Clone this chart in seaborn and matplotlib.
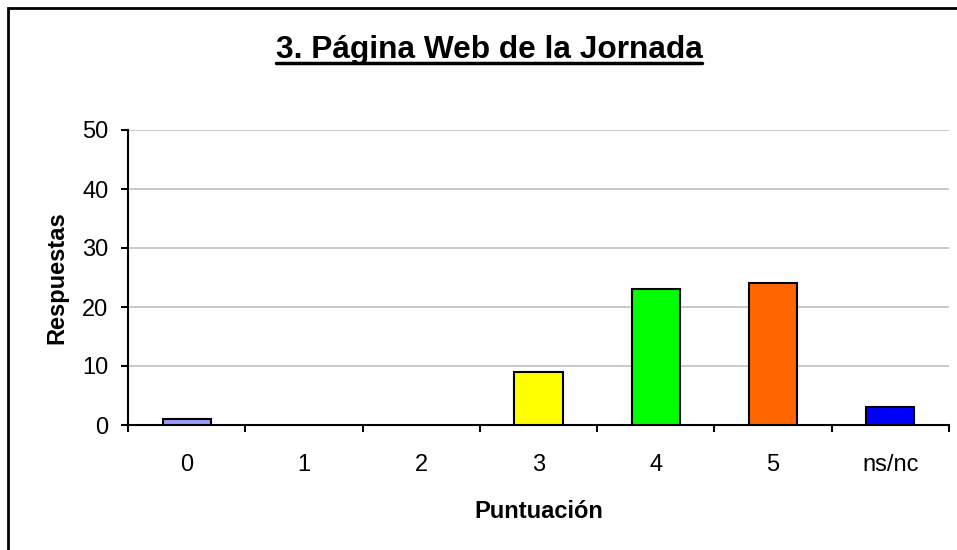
import matplotlib
matplotlib.use("Agg")
import matplotlib.pyplot as plt
import seaborn as sns
import pandas as pd
from matplotlib.patches import Rectangle
from matplotlib.lines import Line2D
from matplotlib.ticker import FixedLocator

categories = ["0", "1", "2", "3", "4", "5", "ns/nc"]
values = [1, 0, 0, 9, 23, 24, 3]
colors = ["#9999FF", "#FFFFFF", "#FFFFFF", "#FFFF00", "#00FF00", "#FF6600", "#0000FF"]
title = "3. Página Web de la Jornada"
xlabel = "Puntuación"
ylabel = "Respuestas"
yticks = [0, 10, 20, 30, 40, 50]

sns.set_theme(style="white")
plt.rcParams['font.family'] = ['Liberation Sans', 'DejaVu Sans']

df = pd.DataFrame({"cat": categories, "val": values})

W, H = 957, 550
fig = plt.figure(figsize=(W/100, H/100), dpi=100)
fig.patch.set_facecolor("white")
ax = fig.add_axes([128/W, 1-425/H, (949-128)/W, (425-130)/H])

sns.barplot(data=df, x="cat", y="val", hue="cat", palette=colors, legend=False,
            saturation=1, width=0.41, edgecolor="black", linewidth=1.5, ax=ax, zorder=3)
for p, v in zip(ax.patches, values):
    if v == 0:
        p.set_visible(False)

ax.set_xlim(-0.5, len(categories)-0.5)
ax.set_ylim(0, 50)
ax.set_yticks(yticks)
ax.yaxis.grid(True, color="#C0C0C0", linewidth=1.2, zorder=0)
ax.set_axisbelow(True)
for s in ["top", "right"]:
    ax.spines[s].set_visible(False)
for s in ["left", "bottom"]:
    ax.spines[s].set_color("black")
    ax.spines[s].set_linewidth(1.5)
ax.set_facecolor("white")

ax.tick_params(axis="y", which="major", direction="out", length=5, width=1.5,
               color="black", left=True, labelsize=17, pad=9, labelcolor="black")
ax.tick_params(axis="x", which="major", length=0, labelsize=17, pad=21, labelcolor="black")
ax.xaxis.set_minor_locator(FixedLocator([i - 0.5 for i in range(len(categories)+1)]))
ax.tick_params(axis="x", which="minor", direction="out", length=5, width=1.5,
               color="black", bottom=True)

ax.set_xlabel(xlabel, fontsize=17, fontweight="bold", color="black")
ax.xaxis.set_label_coords(0.5, (425-518)/295)
ax.xaxis.label.set_va("baseline")
ax.set_ylabel(ylabel, fontsize=17, fontweight="bold", labelpad=10, color="black")

t = fig.text(489/W, 1-58/H, title, fontsize=22.8, fontweight="bold",
             ha="center", va="baseline", color="black")

# outer frame
fig.patches.append(Rectangle((8/W, -0.1), 1.2, 1-8/H+0.1, transform=fig.transFigure,
                             fill=False, edgecolor="black", linewidth=2, zorder=10))

fig.canvas.draw()
bb = t.get_window_extent(fig.canvas.get_renderer())
uy = 1 - 63/H
fig.lines.append(Line2D([bb.x0/W, bb.x1/W], [uy, uy], transform=fig.transFigure,
                        color="black", linewidth=2.5))

fig.savefig("out.png", dpi=100, facecolor="white")
